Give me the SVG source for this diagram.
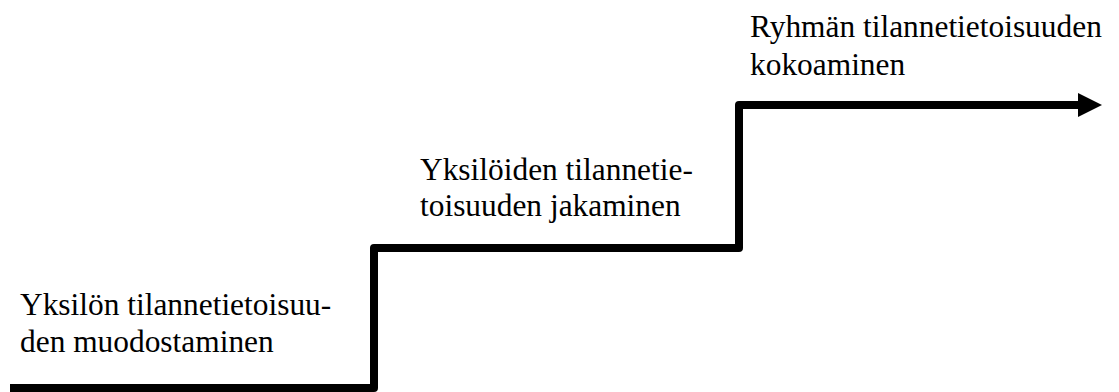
<svg xmlns="http://www.w3.org/2000/svg" width="1119" height="392" viewBox="0 0 1119 392">
<style>
.lbl{font-family:"Liberation Serif","Times New Roman",serif;font-size:31.4px;fill:#000}
.step{fill:none;stroke:#000;stroke-width:8;stroke-linejoin:round}
</style>
<defs>
<marker id="ah" markerUnits="userSpaceOnUse" markerWidth="26" markerHeight="26" refX="0" refY="12" orient="auto">
<path d="M0,0 L24,12 L0,24 Z" fill="#000"/>
</marker>
</defs>
<rect width="1119" height="392" fill="#fff"/>
<g id="connectors">
<path class="step" d="M10,388 H374 V248 H739 V105 H1078" marker-end="url(#ah)"/>
</g>
<g id="stage1">
<text class="lbl" x="20" y="314.5">Yksilön tilannetietoisuu-</text>
<text class="lbl" x="20" y="351.5">den muodostaminen</text>
</g>
<g id="stage2">
<text class="lbl" x="420" y="179.5">Yksilöiden tilannetie-</text>
<text class="lbl" x="420" y="216">toisuuden jakaminen</text>
</g>
<g id="stage3">
<text class="lbl" x="750" y="36.5">Ryhmän tilannetietoisuuden</text>
<text class="lbl" x="750" y="75">kokoaminen</text>
</g>
</svg>
